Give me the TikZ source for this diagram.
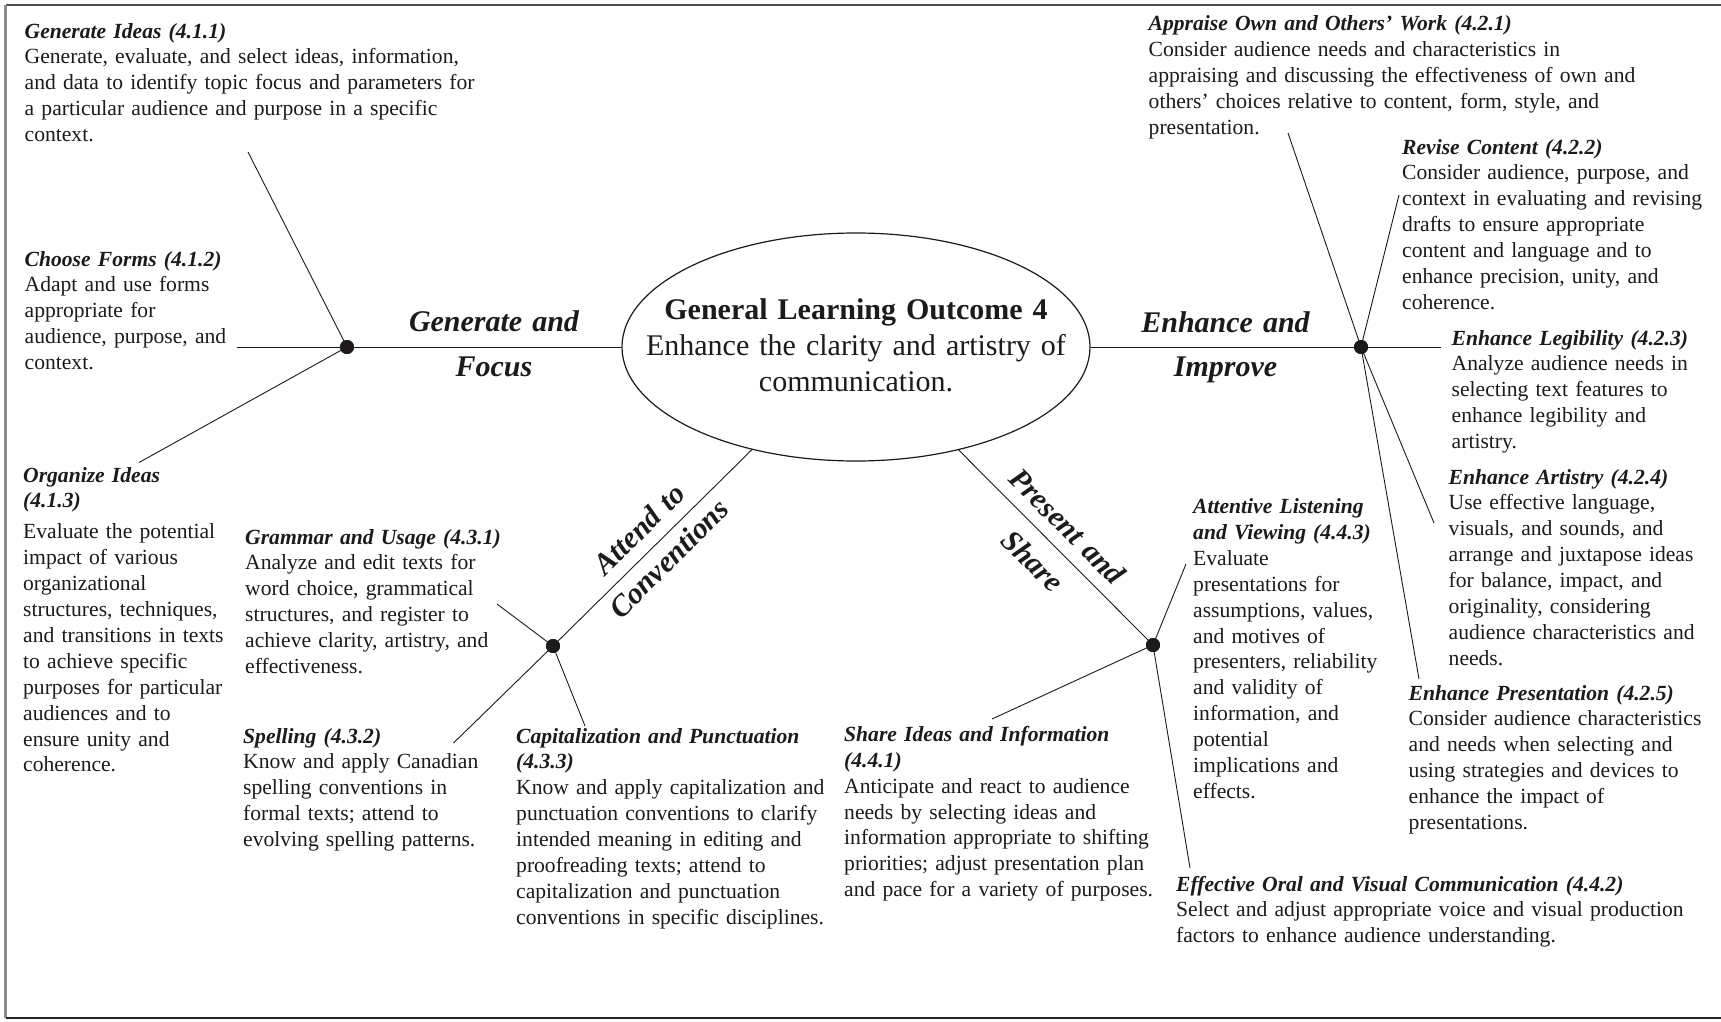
\documentclass[tikz,border=0pt]{standalone}
\usepackage{fontspec}
\setmainfont{Liberation Serif}
\usetikzlibrary{shapes.geometric}
\definecolor{ink}{HTML}{1C1A1B}
\newcommand\itemhead[1]{{\bfseries\itshape #1}}
\tikzset{
  body/.style={anchor=base west, inner sep=0, text width=600bp, align=left,
    text=ink, font=\fontsize{21.6bp}{25.9bp}\selectfont},
  theme/.style={inner sep=0, text=ink, text width=240bp, align=center,
    anchor=base, font=\fontsize{30bp}{#1}\selectfont\bfseries\itshape},
  theme/.default=45bp,
  hub/.style={circle, fill=ink, inner sep=0, minimum size=14bp},
  spoke/.style={draw=ink, line width=0.9bp},
}
\begin{document}
\begin{tikzpicture}[x=1bp,y=-1bp]
\useasboundingbox (0,0) rectangle (1721,1021);
\fill[white] (0,0) rectangle (1721,1021);

% frame (open on the right)
\draw[color=black!70, line width=2bp] (1721,4.5) -- (5.5,4.5);
\draw[color=black!45, line width=2.5bp] (5.5,4.5) -- (5.5,1018);
\draw[color=black!85, line width=2bp] (5.5,1018) -- (1721,1018);

% central outcome
\node[draw=ink, line width=1.2bp, ellipse, minimum width=468bp,
      minimum height=228bp, inner sep=0] (ctr) at (856,347) {};
\node[anchor=base, inner sep=0, text width=460bp, align=center, text=ink,
      font=\fontsize{30bp}{36.2bp}\selectfont] (glo) at (856,319.3)
  {\textbf{General Learning Outcome 4}\\Enhance the clarity and artistry of\\communication.};

% hubs
\node[hub] (G) at (347,347) {};
\node[hub] (E) at (1361,347) {};
\node[hub] (A) at (553,646) {};
\node[hub] (P) at (1153,645) {};

% free ends of the spokes
\coordinate (g1) at (248,152);
\coordinate (g2) at (237,347);
\coordinate (g3) at (139,462.5);
\coordinate (e1) at (1288,133);
\coordinate (e2) at (1399,195);
\coordinate (e3) at (1441,347);
\coordinate (e4) at (1434,523);
\coordinate (e5) at (1419,679);
\coordinate (a1) at (497,604);
\coordinate (a2) at (453.5,743);
\coordinate (a3) at (585,726);
\coordinate (p1) at (1186,564);
\coordinate (p2) at (992,719);
\coordinate (p3) at (1190,868);

% main branches
\draw[spoke] (g2) -- (ctr.west);
\draw[spoke] (ctr.east) -- (e3);
\draw[spoke] (A) -- (ctr);
\draw[spoke] (P) -- (ctr);

% spokes
\draw[spoke] (G.center) -- (g1);
\draw[spoke] (G.center) -- (g3);
\draw[spoke] (E.center) -- (e1);
\draw[spoke] (E.center) -- (e2);
\draw[spoke] (E.center) -- (e4);
\draw[spoke] (E.center) -- (e5);
\draw[spoke] (A.center) -- (a1);
\draw[spoke] (A.center) -- (a2);
\draw[spoke] (A.center) -- (a3);
\draw[spoke] (P.center) -- (p1);
\draw[spoke] (P.center) -- (p2);
\draw[spoke] (P.center) -- (p3);

% redraw hubs on top
\node[hub] at (G) {};
\node[hub] at (E) {};
\node[hub] at (A) {};
\node[hub] at (P) {};

% branch titles (one node each, split by the branch line)
\node[theme] (tg) at (494,331.7) {Generate and\\Focus};
\node[theme=44bp] (te) at (1225.5,332.7) {Enhance and\\Improve};
\node[theme=42bp, rotate=45] (ta) at (646.3,536.2) {Attend to\\Conventions};
\node[theme=49bp, rotate=-45] (tp) at (1060.3,533.5) {Present and\\Share};

% Generate and Focus
\node[body] (o411) at (24.5,38) {\itemhead{Generate Ideas (4.1.1)}\\
  Generate, evaluate, and select ideas, information,\\
  and data to identify topic focus and parameters for\\
  a particular audience and purpose in a specific\\
  context.};
\node[body] (o412) at (24.5,266) {\itemhead{Choose Forms (4.1.2)}\\
  Adapt and use forms\\
  appropriate for\\
  audience, purpose, and\\
  context.};
\node[body] (o413) at (23,482) {\itemhead{Organize Ideas}\\
  \itemhead{(4.1.3)}\\[5bp]
  Evaluate the potential\\
  impact of various\\
  organizational\\
  structures, techniques,\\
  and transitions in texts\\
  to achieve specific\\
  purposes for particular\\
  audiences and to\\
  ensure unity and\\
  coherence.};

% Attend to Conventions
\node[body] (o431) at (245,544) {\itemhead{Grammar and Usage (4.3.1)}\\
  Analyze and edit texts for\\
  word choice, grammatical\\
  structures, and register to\\
  achieve clarity, artistry, and\\
  effectiveness.};
\node[body] (o432) at (243,743) {\itemhead{Spelling (4.3.2)}\\
  Know and apply Canadian\\
  spelling conventions in\\
  formal texts; attend to\\
  evolving spelling patterns.};
\node[body] (o433) at (516,743) {\itemhead{Capitalization and Punctuation}\\
  \itemhead{(4.3.3)}\\
  Know and apply capitalization and\\
  punctuation conventions to clarify\\
  intended meaning in editing and\\
  proofreading texts; attend to\\
  capitalization and punctuation\\
  conventions in specific disciplines.};

% Present and Share
\node[body] (o441) at (844,741.3) {\itemhead{Share Ideas and Information}\\
  \itemhead{(4.4.1)}\\
  Anticipate and react to audience\\
  needs by selecting ideas and\\
  information appropriate to shifting\\
  priorities; adjust presentation plan\\
  and pace for a variety of purposes.};
\node[body] (o443) at (1193,513.5) {\itemhead{Attentive Listening}\\
  \itemhead{and Viewing (4.4.3)}\\
  Evaluate\\
  presentations for\\
  assumptions, values,\\
  and motives of\\
  presenters, reliability\\
  and validity of\\
  information, and\\
  potential\\
  implications and\\
  effects.};
\node[body] (o442) at (1176,891) {\itemhead{Effective Oral and Visual Communication (4.4.2)}\\
  Select and adjust appropriate voice and visual production\\
  factors to enhance audience understanding.};

% Enhance and Improve
\node[body] (o421) at (1148.5,30.7) {\itemhead{Appraise Own and Others’ Work (4.2.1)}\\
  Consider audience needs and characteristics in\\
  appraising and discussing the effectiveness of own and\\
  others’ choices relative to content, form, style, and\\
  presentation.};
\node[body] (o422) at (1402,154) {\itemhead{Revise Content (4.2.2)}\\
  Consider audience, purpose, and\\
  context in evaluating and revising\\
  drafts to ensure appropriate\\
  content and language and to\\
  enhance precision, unity, and\\
  coherence.};
\node[body] (o423) at (1451.5,345) {\itemhead{Enhance Legibility (4.2.3)}\\
  Analyze audience needs in\\
  selecting text features to\\
  enhance legibility and\\
  artistry.};
\node[body] (o424) at (1448.5,484) {\itemhead{Enhance Artistry (4.2.4)}\\
  Use effective language,\\
  visuals, and sounds, and\\
  arrange and juxtapose ideas\\
  for balance, impact, and\\
  originality, considering\\
  audience characteristics and\\
  needs.};
\node[body] (o425) at (1408.5,700) {\itemhead{Enhance Presentation (4.2.5)}\\
  Consider audience characteristics\\
  and needs when selecting and\\
  using strategies and devices to\\
  enhance the impact of\\
  presentations.};
\end{tikzpicture}
\end{document}
